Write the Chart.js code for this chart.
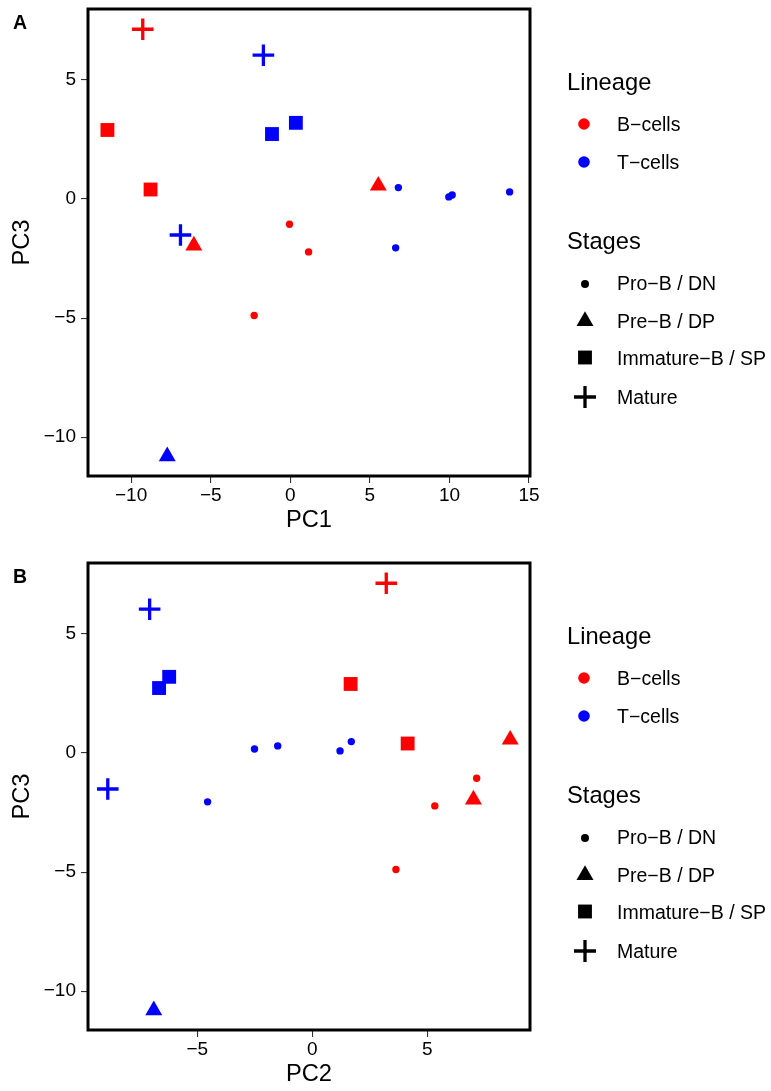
<!DOCTYPE html>
<html lang="en">
<head>
<meta charset="UTF-8">
<title>PCA - lineage and stages</title>
<script src="https://cdn.jsdelivr.net/npm/chart.js"></script>
<style>
  html, body { margin: 0; padding: 0; background: #fff; overflow: hidden; }
  .panel { position: absolute; left: 0; width: 771px; height: 546px; }
  #panelA { top: 0; }
  #panelB { top: 554px; }
</style>
</head>
<body>
<div class="panel" id="panelA"><canvas id="chartA" width="771" height="546"></canvas></div>
<div class="panel" id="panelB"><canvas id="chartB" width="771" height="546"></canvas></div>
<script>
// one entry per sample
const lineage = ['B', 'T', 'B', 'T', 'T', 'B', 'T', 'B', 'B', 'B', 'T', 'T', 'T', 'T', 'B', 'T', 'B', 'T'];
const stage = ['Mature', 'Mature', 'Immature', 'Immature', 'Immature', 'Immature', 'Mature', 'Pre', 'Pro',
  'Pre', 'Pro', 'Pro', 'Pro', 'Pro', 'Pro', 'Pro', 'Pro', 'Pre'];
const pc1 = [-9.27, -1.69, -11.49, -1.15, 0.35, -8.78, -6.9, -6.06, -0.05, 5.53, 6.79, 9.96, 10.17, 13.78, 1.15, 6.62, -2.27, -7.73];
const pc2 = [3.22, -7.07, 1.67, -6.66, -6.22, 4.15, -8.89, 7.01, 7.15, 8.61, 1.7, 1.21, -2.51, -1.5, 5.33, -4.55, 3.64, -6.89];
const pc3 = [7.13, 6.04, 2.9, 2.73, 3.2, 0.4, -1.51, -1.95, -1.06, 0.56, 0.48, 0.09, 0.17, 0.3, -2.22, -2.05, -4.89, -10.8];

// axis ticks and limits
const pc1Ticks = [-10, -5, 0, 5, 10, 15];
const pc2Ticks = [-5, 0, 5];
const pc3Ticks = [-10, -5, 0, 5];
const pc1Range = [-12.71, 15.06];
const pc2Range = [-9.75, 9.47];
const pc3Range = [-11.63, 7.98];

// legend groups
const lineageKeys = ['B', 'T'];
const lineageLabels = ['B\u2212cells', 'T\u2212cells'];
const stageKeys = ['Pro', 'Pre', 'Immature', 'Mature'];
const stageLabels = ['Pro\u2212B / DN', 'Pre\u2212B / DP', 'Immature\u2212B / SP', 'Mature'];

// styles
const lineageColors = { B: '#ff0000', T: '#0000ff' };
const stageShapes = {
  Pro: { pointStyle: 'circle', radius: 3.7, borderWidth: 0 },
  Pre: { pointStyle: 'triangle', radius: 9.8, borderWidth: 0 },
  Immature: { pointStyle: 'rect', radius: 9.8, borderWidth: 0 },
  Mature: { pointStyle: 'cross', radius: 10.8, borderWidth: 3.3 }
};
const FONT = '"Liberation Sans", Arial, Helvetica, sans-serif';

function fmt(v) {
  return v < 0 ? '\u2212' + Math.abs(v) : String(v);
}

function buildDatasets(xs) {
  const sets = [];
  lineageKeys.forEach(lin => {
    stageKeys.forEach(st => {
      const pts = [];
      for (let i = 0; i < xs.length; i++) {
        if (lineage[i] === lin && stage[i] === st) pts.push({ x: xs[i], y: pc3[i] });
      }
      const shape = stageShapes[st];
      sets.push({
        label: lin + ' ' + st,
        data: pts,
        pointStyle: shape.pointStyle,
        pointRadius: shape.radius,
        pointHoverRadius: shape.radius,
        pointBorderWidth: shape.borderWidth,
        backgroundColor: lineageColors[lin],
        borderColor: lineageColors[lin]
      });
    });
  });
  return sets;
}

// frame, panel letter and the two-part legend
const decor = {
  id: 'decor',
  afterDraw(chart, args, opts) {
    const ctx = chart.ctx;
    const a = chart.chartArea;
    ctx.save();
    ctx.strokeStyle = '#000';
    ctx.lineWidth = 3;
    ctx.strokeRect(a.left, a.top, a.right - a.left, a.bottom - a.top);

    ctx.fillStyle = '#000';
    ctx.textBaseline = 'alphabetic';
    ctx.textAlign = 'left';
    ctx.font = 'bold 19.5px ' + FONT;
    ctx.fillText(opts.letter, 13, 29);

    // legend
    const lx = 567, kx = 585, tx = 617;
    ctx.font = '23.7px ' + FONT;
    ctx.fillText('Lineage', lx, 90.2);
    ctx.fillText('Stages', lx, 249);

    ctx.font = '19.5px ' + FONT;
    const linY = [124, 162];
    lineageKeys.forEach((k, i) => {
      ctx.fillStyle = lineageColors[k];
      ctx.strokeStyle = lineageColors[k];
      Chart.helpers.drawPoint(ctx, { pointStyle: 'circle', radius: 5.8, borderWidth: 0, rotation: 0 }, kx - 1, linY[i]);
      ctx.fillStyle = '#000';
      ctx.fillText(lineageLabels[i], tx, linY[i] + 7);
    });

    const stY = [283, 320.5, 358, 397];
    const keyY = [284, 321, 357.5, 397];
    stageKeys.forEach((k, i) => {
      const s = stageShapes[k];
      ctx.fillStyle = '#000';
      ctx.strokeStyle = '#000';
      ctx.lineWidth = s.borderWidth;
      const r = k === 'Pro' ? 4 : (k === 'Mature' ? 11 : s.radius);
      Chart.helpers.drawPoint(ctx, { pointStyle: s.pointStyle, radius: r, borderWidth: k === 'Mature' ? 3.6 : s.borderWidth, rotation: 0 }, kx, keyY[i]);
      ctx.fillText(stageLabels[i], tx, stY[i] + 7);
    });
    ctx.restore();
  }
};

function makeChart(id, xs, xTicks, xRange, xTitle, letter) {
  return new Chart(document.getElementById(id), {
    type: 'scatter',
    data: { datasets: buildDatasets(xs) },
    options: {
      responsive: false,
      maintainAspectRatio: false,
      devicePixelRatio: 1,
      animation: false,
      events: [],
      layout: { autoPadding: false, padding: { top: 9, right: 241, bottom: 0, left: 0 } },
      plugins: {
        legend: { display: false },
        tooltip: { enabled: false },
        decor: { letter: letter }
      },
      scales: {
        x: {
          type: 'linear',
          min: xRange[0],
          max: xRange[1],
          afterBuildTicks: s => { s.ticks = xTicks.map(v => ({ value: v })); },
          afterFit: s => { s.height = 70; s.paddingLeft = 0; s.paddingRight = 0; },
          border: { display: false },
          grid: { drawOnChartArea: false, drawTicks: true, tickLength: 7, color: '#333', lineWidth: 1.1 },
          ticks: {
            padding: 1,
            color: '#000',
            maxRotation: 0,
            autoSkip: false,
            font: { family: FONT, size: 19 },
            callback: v => fmt(v)
          },
          title: {
            display: true,
            text: xTitle,
            color: '#000',
            font: { family: FONT, size: 23.7 },
            padding: { top: 0, bottom: 11 }
          }
        },
        y: {
          type: 'linear',
          min: pc3Range[0],
          max: pc3Range[1],
          afterBuildTicks: s => { s.ticks = pc3Ticks.map(v => ({ value: v })); },
          afterFit: s => { s.width = 88; s.paddingTop = 0; s.paddingBottom = 0; },
          border: { display: false },
          grid: { drawOnChartArea: false, drawTicks: true, tickLength: 7, color: '#333', lineWidth: 1.1 },
          ticks: {
            padding: 5,
            color: '#000',
            autoSkip: false,
            font: { family: FONT, size: 19 },
            callback: v => fmt(v)
          },
          title: {
            display: true,
            text: 'PC3',
            color: '#000',
            font: { family: FONT, size: 23.7 },
            padding: { top: 8, bottom: 0 }
          }
        }
      }
    },
    plugins: [decor]
  });
}

makeChart('chartA', pc1, pc1Ticks, pc1Range, 'PC1', 'A');
makeChart('chartB', pc2, pc2Ticks, pc2Range, 'PC2', 'B');
</script>
</body>
</html>
